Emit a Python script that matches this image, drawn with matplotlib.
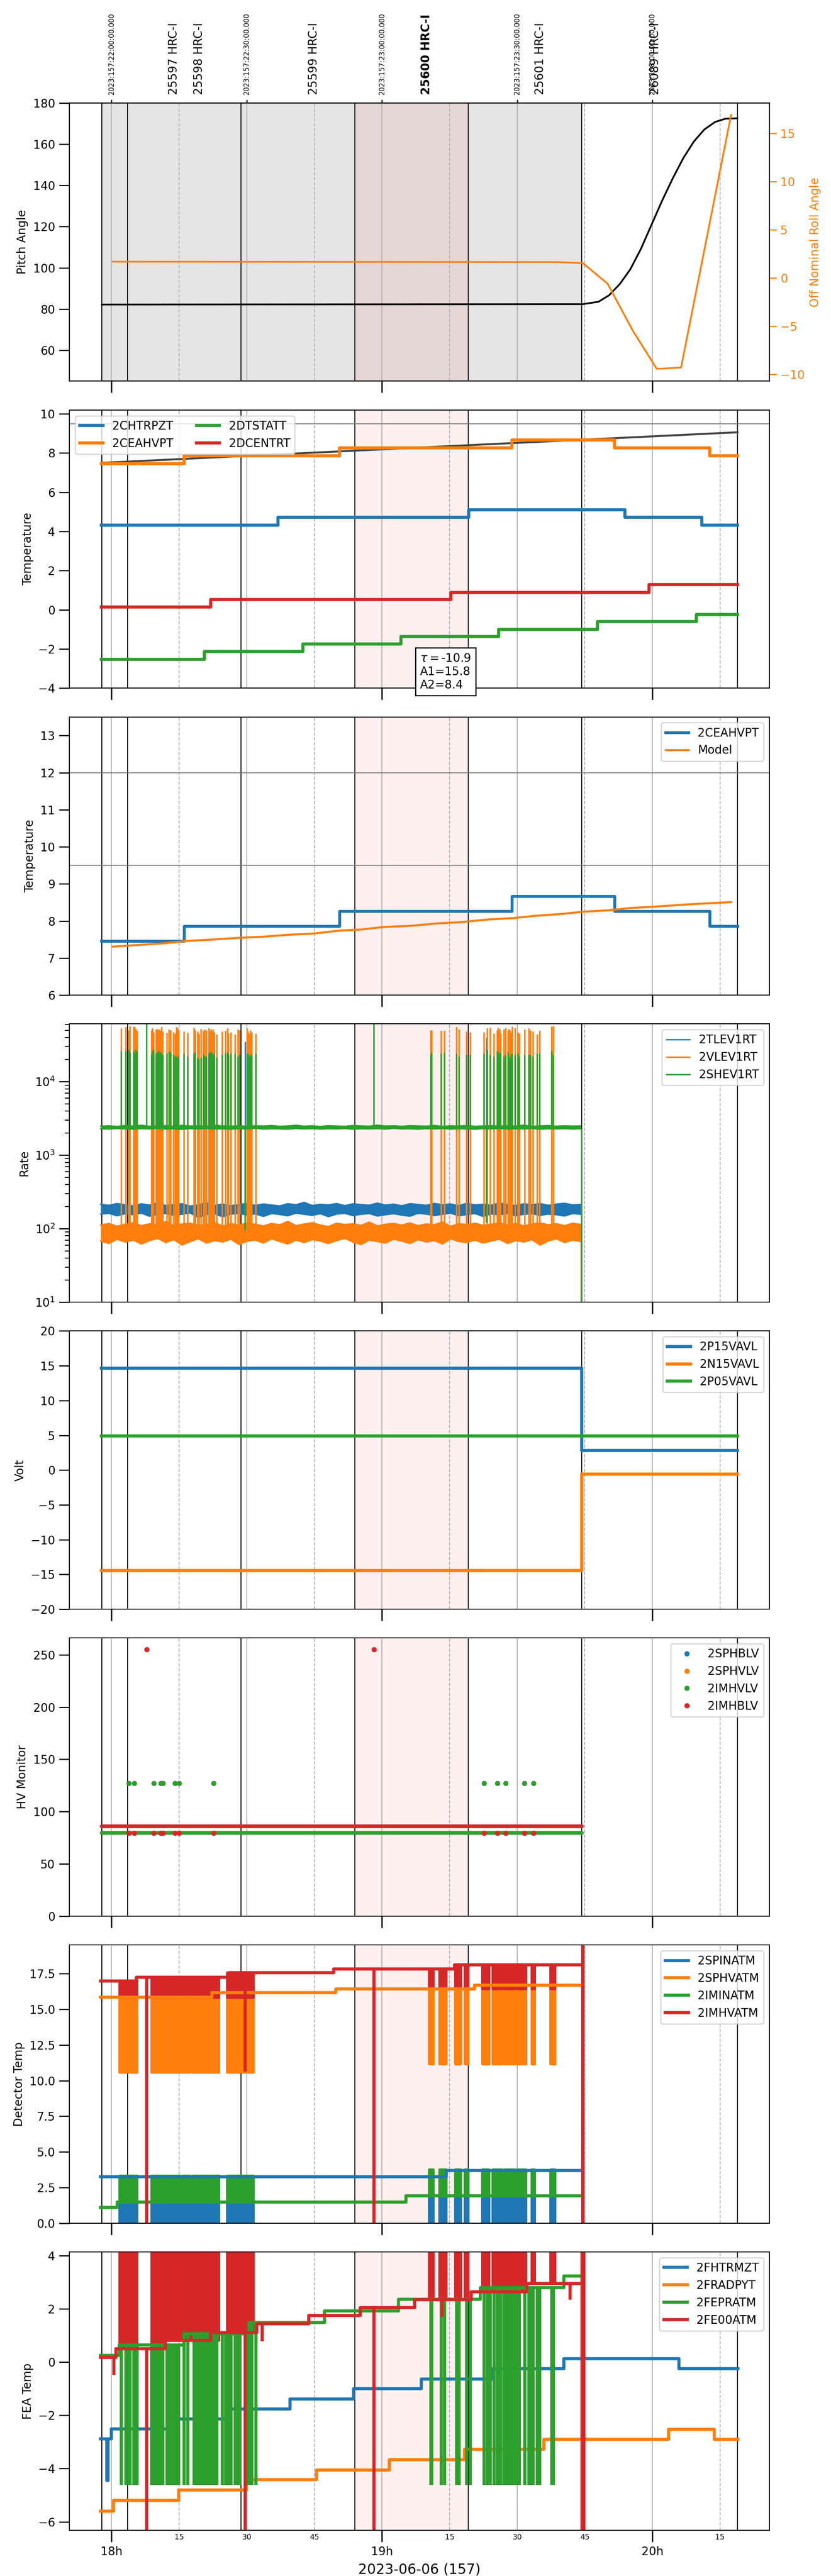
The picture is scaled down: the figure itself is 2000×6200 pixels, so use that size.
import numpy as np
import matplotlib
matplotlib.use("Agg")
import matplotlib.pyplot as plt
from matplotlib.ticker import FixedLocator, FixedFormatter, NullLocator
import matplotlib.transforms as mtransforms

plt.rcParams['font.family'] = ['DejaVu Sans']

C0, C1, C2, C3 = '#1f77b4', '#ff7f0e', '#2ca02c', '#d62728'

# ---------------- time axis (hours, local time on 2023-06-06) ----------------
x_limits = (17.8448, 20.4325)
obs_bounds = [17.964, 18.060, 18.479, 18.899, 19.319, 19.739, 20.315]
pink_span = (18.899, 19.319)
grey_span = (17.964, 19.739)
grid_solid = [18.0, 18.5, 19.0, 19.5, 20.0]
grid_dashed = [18.25, 18.75, 19.25, 19.75, 20.25]
major_ticks = [18.0, 19.0, 20.0]
major_labels = ['18h', '19h', '20h']
minor_ticks = [18.25, 18.5, 18.75, 19.25, 19.5, 19.75, 20.25]
minor_labels = ['15', '30', '45', '15', '30', '45', '15']
utc_ticks = [18.0, 18.5, 19.0, 19.5, 20.0]
utc_labels = ['2023:157:22:00:00.000', '2023:157:22:30:00.000', '2023:157:23:00:00.000',
              '2023:157:23:30:00.000', '2023:158:00:00:00.000']
obs_ids = ['25597 HRC-I', '25598 HRC-I', '25599 HRC-I', '25600 HRC-I', '25601 HRC-I', '26089 HRC-I']
obs_label_x = [18.2306, 18.3242, 18.7472, 19.1643, 19.5855, 20.0104]
obs_bold = [False, False, False, True, False, False]
xlabel_text = '2023-06-06 (157)'

# ---------------- panel 1 : pitch / roll ----------------
pitch_t = [17.964, 19.7427, 19.8009, 19.8400, 19.8792, 19.9184, 19.9576, 19.9967, 20.0359,
           20.0751, 20.1143, 20.1535, 20.1925, 20.2317, 20.2708, 20.3140]
pitch_v = [82.2, 82.38, 83.55, 86.70, 92.09, 99.28, 109.17, 120.85, 132.54,
           143.33, 153.21, 161.30, 167.15, 170.74, 172.36, 172.54]
roll_t = [18.005, 19.644, 19.743, 19.834, 19.928, 20.016, 20.106, 20.291]
roll_v = [1.69, 1.65, 1.54, -0.58, -5.48, -9.42, -9.29, 16.92]

# ---------------- panel 2 : temperatures ----------------
chtrpzt_t = [17.962, 18.616, 19.321, 19.899, 20.183, 20.315]
chtrpzt_v = [4.32, 4.72, 5.10, 4.72, 4.32, 4.32]
ceahvpt_t = [17.962, 18.269, 18.843, 19.480, 19.860, 20.212, 20.315]
ceahvpt_v = [7.46, 7.86, 8.27, 8.67, 8.27, 7.86, 7.86]
dtstatt_t = [17.962, 18.344, 18.708, 19.070, 19.431, 19.797, 20.163, 20.315]
dtstatt_v = [-2.52, -2.12, -1.74, -1.36, -1.00, -0.60, -0.24, -0.24]
dcentrt_t = [17.962, 18.367, 19.255, 19.987, 20.315]
dcentrt_v = [0.14, 0.52, 0.88, 1.28, 1.28]
trend_t = [17.964, 20.315]
trend_v = [7.50, 9.06]
p2_limits = [9.5]
fit_text = r'$\tau=$-10.9' + '\nA1=15.8\nA2=8.4'

# ---------------- panel 3 : model ----------------
model_t = [18.005, 18.195, 18.273, 18.372, 18.479, 18.567, 18.655, 18.743, 18.841, 18.920,
           19.008, 19.106, 19.194, 19.292, 19.390, 19.488, 19.566, 19.664, 19.742, 19.840,
           19.918, 20.016, 20.114, 20.212, 20.291]
model_v = [7.31, 7.40, 7.46, 7.50, 7.55, 7.58, 7.63, 7.66, 7.74, 7.77,
           7.84, 7.87, 7.93, 7.97, 8.04, 8.08, 8.14, 8.19, 8.25, 8.29,
           8.35, 8.39, 8.44, 8.48, 8.51]
p3_limits = [12.0, 9.5]

# ---------------- panel 4 : rates (envelopes of dense data + spikes) ----------------
rate_t = np.linspace(17.960, 19.735, 60)
tlev_hi = [215, 208, 220, 212, 205, 218, 210, 224, 207, 214,
           219, 203, 211, 226, 209, 216, 206, 213, 221, 208,
           217, 210, 204, 219, 212, 228, 207, 215, 211, 220,
           206, 218, 213, 209, 223, 210, 216, 205, 219, 214,
           208, 221, 212, 217, 206, 222, 211, 215, 209, 224,
           213, 207, 218, 212, 220, 208, 216, 222, 211, 214]
tlev_lo = [158, 162, 150, 160, 155, 163, 148, 158, 161, 152,
           157, 164, 142, 156, 160, 145, 158, 162, 153, 159,
           147, 161, 156, 150, 163, 157, 152, 160, 146, 158,
           162, 151, 157, 161, 149, 155, 160, 153, 148, 162,
           158, 151, 157, 163, 150, 156, 161, 147, 159, 154,
           162, 150, 157, 160, 152, 158, 155, 149, 161, 157]
vlev_hi = [112, 118, 108, 115, 121, 110, 117, 113, 125, 109,
           116, 119, 111, 114, 122, 108, 117, 112, 120, 115,
           109, 118, 113, 126, 110, 116, 121, 112, 107, 119,
           114, 117, 111, 123, 109, 115, 118, 112, 120, 110,
           116, 113, 124, 108, 117, 114, 119, 111, 115, 121,
           112, 118, 109, 116, 120, 113, 117, 110, 119, 114]
vlev_lo = [68, 63, 72, 66, 70, 62, 69, 74, 65, 71,
           60, 67, 73, 64, 69, 66, 72, 61, 68, 70,
           64, 73, 67, 62, 70, 65, 71, 68, 63, 69,
           74, 66, 61, 70, 67, 64, 72, 68, 63, 71,
           66, 69, 62, 73, 67, 65, 70, 64, 68, 72,
           63, 69, 66, 71, 60, 68, 73, 65, 70, 67]
shev_hi = [2480, 2510, 2460, 2530, 2490, 2550, 2470, 2500, 2520, 2460,
           2540, 2490, 2510, 2470, 2560, 2500, 2480, 2520, 2460, 2510,
           2490, 2530, 2470, 2500, 2550, 2480, 2510, 2460, 2520, 2490,
           2470, 2530, 2500, 2480, 2560, 2490, 2510, 2470, 2520, 2500,
           2480, 2540, 2460, 2510, 2490, 2530, 2470, 2500, 2520, 2480,
           2510, 2490, 2560, 2470, 2500, 2530, 2480, 2510, 2490, 2500]
shev_lo = [2290, 2270, 2310, 2280, 2260, 2300, 2280, 2320, 2270, 2290,
           2250, 2300, 2280, 2310, 2270, 2290, 2260, 2300, 2280, 2320,
           2270, 2290, 2280, 2260, 2310, 2280, 2300, 2270, 2290, 2280,
           2310, 2260, 2290, 2280, 2300, 2270, 2320, 2280, 2290, 2260,
           2300, 2280, 2310, 2270, 2290, 2280, 2260, 2300, 2280, 2320,
           2270, 2290, 2280, 2310, 2260, 2290, 2280, 2300, 2270, 2290]
spike_t = [18.0364, 18.0533, 18.0641, 18.0687, 18.0826, 18.0856, 18.0902, 18.0948, 18.1486, 18.1516,
           18.1563, 18.1655, 18.1701, 18.1747, 18.1778, 18.1824, 18.1855, 18.1901, 18.2055, 18.2131,
           18.2193, 18.2300, 18.2362, 18.2408, 18.2454, 18.2485, 18.2685, 18.2823, 18.3053, 18.3099,
           18.3191, 18.3237, 18.3314, 18.3406, 18.3452, 18.3514, 18.3606, 18.3637, 18.3683, 18.3714,
           18.3760, 18.3806, 18.3898, 18.4098, 18.4221, 18.4298, 18.4329, 18.4421, 18.4575, 18.4682,
           18.4744, 18.5020, 18.5051, 18.5097, 18.5143, 18.5189, 18.5343,
           19.1811, 19.1841, 19.2195, 19.2317, 19.2763, 19.2855, 19.3132, 19.3270, 19.3777, 19.3900,
           19.4008, 19.4146, 19.4269, 19.4299, 19.4330, 19.4361, 19.4392, 19.4515, 19.4576, 19.4668,
           19.4699, 19.4745, 19.4791, 19.4822, 19.4930, 19.5037, 19.5083, 19.5283, 19.5436, 19.5498,
           19.5590, 19.5744, 19.5836, 19.6282, 19.6343]
vlev_peak = [53, 55, 50, 57, 56, 55, 52, 49, 50, 53, 47, 51, 52, 50, 51, 49, 55, 48, 46, 51,
             50, 47, 45, 55, 53, 50, 48, 46, 54, 50, 48, 45, 52, 49, 51, 50, 53, 49, 52, 48,
             51, 47, 44, 48, 49, 53, 45, 47, 44, 51, 50, 53, 48, 45, 50, 47, 45,
             50, 50, 49, 49, 55, 51, 48, 47, 47, 53, 54, 45, 50, 54, 48, 52, 45, 51, 53, 49,
             52, 50, 47, 56, 54, 47, 45, 51, 53, 50, 48, 44, 49, 56, 57]
shev_peak = [26, 26, 27, 25, 26, 24, 27, 26, 23, 26, 27, 24, 25, 26, 25, 25, 24, 23, 24, 26,
             25, 23, 22, 22, 21, 22, 24, 22, 24, 25, 21, 20, 21, 23, 22, 22, 24, 25, 24, 25,
             23, 24, 21, 23, 24, 25, 23, 24, 24, 22, 23, 24, 24, 22, 23, 23, 24,
             23, 25, 24, 25, 24, 22, 23, 23, 24, 27, 23, 22, 26, 25, 22, 24, 25, 22, 23, 25,
             22, 21, 23, 24, 23, 24, 22, 23, 23, 23, 22, 24, 24, 26, 23]
tall_t = [18.1306, 18.9704]
tall_v = [90000, 90000]
event_t = [18.4935, 19.3865]
event_tlev = [35000, 40000]
event_shev = [95, 120]
rate_end_t = 19.7365
rate_end_v = 1.0

# ---------------- panel 5 : voltages ----------------
volt_t = [17.962, 19.738, 20.315]
p15_v = [14.64, 2.84, 2.84]
n15_v = [-14.44, -0.55, -0.55]
p05_v = [4.93, 4.93, 4.93]

# ---------------- panel 6 : HV monitors ----------------
hv_span = [17.962, 19.738]
imhblv_base = [86.2, 86.2]
imhvlv_base = [79.8, 79.8]
hv_out_t = [18.0642, 18.0837, 18.1562, 18.1816, 18.1894, 18.2346, 18.2501, 18.3775,
            19.3779, 19.4268, 19.4581, 19.5266, 19.5600]
imhvlv_out = [127.1, 127.1, 127.1, 127.1, 127.1, 127.1, 127.1, 127.1, 127.1, 127.1, 127.1, 127.1, 127.1]
imhblv_out = [79.5, 79.5, 79.5, 79.5, 79.5, 79.5, 79.5, 79.5, 79.5, 79.5, 79.5, 79.5, 79.5]
imhblv_high_t = [18.1306, 18.9704]
imhblv_high_v = [255.2, 255.2]

# ---------------- glitch blocks (shared by panels 7, 8) ----------------
blocks_A = [(18.0307, 18.0436), (18.0476, 18.0590), (18.0615, 18.0744), (18.0768, 18.0948),
            (18.1486, 18.1947), (18.1997, 18.2561), (18.2638, 18.2895), (18.2996, 18.3970),
            (18.4277, 18.5250)]
blocks_B = [(19.1744, 19.1901), (19.2136, 19.2371), (19.2708, 19.2918), (19.3075, 19.3193),
            (19.3719, 19.3954), (19.4094, 19.4447), (19.4525, 19.4917), (19.4995, 19.5152),
            (19.5207, 19.5333), (19.5544, 19.5645), (19.6234, 19.6406)]
bad_t = [18.1306, 18.9704]
final_t = 19.7425

# ---------------- panel 7 : detector temps ----------------
spinatm_t = [17.959, 19.237, 19.7346]
spinatm_v = [3.26, 3.71, 3.71]
sphvatm_t = [17.959, 18.3714, 18.8297, 19.3428, 19.7346]
sphvatm_v = [15.83, 16.15, 16.41, 16.69, 16.69]
iminatm_t = [17.959, 18.0206, 19.0883, 19.7346]
iminatm_v = [1.11, 1.50, 1.92, 1.92]
imhvatm_t = [17.959, 18.0922, 18.4328, 18.8218, 19.2683, 19.7346]
imhvatm_v = [16.97, 17.24, 17.57, 17.81, 18.11, 18.11]
glitch7 = {'spinatm': (-1.0, -1.0), 'sphvatm': (10.57, 11.15),
           'iminatm': (3.32, 3.75), 'imhvatm': (15.81, 16.43)}
imhvatm_dip_t = [18.4943]
imhvatm_dip_v = [10.64]

# ---------------- panel 8 : FEA temps ----------------
fhtrmzt_t = [17.960, 17.9825, 17.9865, 17.9991, 18.2096, 18.4299, 18.6601, 18.8951, 19.1457,
             19.4081, 19.6725, 20.0986, 20.3159]
fhtrmzt_v = [-2.89, -4.44, -2.89, -2.51, -2.14, -1.76, -1.38, -1.00, -0.63, -0.24, 0.13, -0.24, -0.24]
fradpyt_t = [17.960, 18.0069, 18.2488, 18.4984, 18.7579, 19.0273, 19.3054, 19.5991, 20.0594,
             20.2287, 20.3159]
fradpyt_v = [-5.60, -5.20, -4.81, -4.42, -4.05, -3.67, -3.27, -2.90, -2.52, -2.90, -2.90]
fepratm_t = [17.960, 18.0284, 18.2684, 18.5083, 18.7874, 19.0615, 19.3641, 19.6725, 19.7332]
fepratm_v = [0.25, 0.65, 1.07, 1.49, 1.92, 2.36, 2.80, 3.24, 3.24]
fe00atm_t = [17.960, 18.0157, 18.1997, 18.3663, 18.5376, 18.7286, 18.9196, 19.1203, 19.3298,
             19.5355, 19.7332]
fe00atm_v = [0.17, 0.50, 0.81, 1.11, 1.44, 1.75, 2.05, 2.34, 2.64, 2.96, 2.96]
fepratm_glitch = -4.62
fe00atm_glitch = 6.0
fe00atm_dip_t = [18.0088, 18.5573, 19.2221, 19.6951]
fe00atm_dip_v = [-0.48, 0.79, 1.71, 2.34]
fe00atm_bad_t = [18.1306, 18.4935, 18.9704]


# ============================ helpers ============================
def step_at(t, v, x):
    i = np.searchsorted(np.asarray(t), x, side='right') - 1
    i = min(max(i, 0), len(v) - 1)
    return v[i]


def glitches(ax, blocks, t, v, level, color):
    for s, e in blocks:
        b = step_at(t, v, 0.5 * (s + e))
        ax.fill_between([s, e], [b, b], [level, level], color=color, ec=color, lw=2.2)


def decorate(ax, grey=False):
    if grey:
        ax.axvspan(*grey_span, color='grey', alpha=0.2, lw=0, zorder=0)
    ax.axvspan(*pink_span, color='red', alpha=0.06, lw=0, zorder=0.1)
    for x in grid_solid:
        ax.axvline(x, color='#b0b0b0', lw=0.8, zorder=0.5)
    for x in grid_dashed:
        ax.axvline(x, color='#b0b0b0', lw=0.8, ls='--', zorder=0.5)
    for x in obs_bounds:
        ax.axvline(x, color='k', lw=0.8, zorder=0.6)
    ax.tick_params(axis='y', which='major', length=9, width=1, labelsize=10)
    ax.tick_params(axis='x', which='major', length=10, width=1.2, labelsize=10, pad=3.5)
    ax.tick_params(axis='x', which='minor', length=0, labelsize=6.5, pad=3)


# ============================ figure ============================
fig = plt.figure(figsize=(10, 31), dpi=200)
gs = fig.add_gridspec(8, 1, left=0.0837, right=0.9258, top=0.96005, bottom=0.01774, hspace=0.1032)
axes = [fig.add_subplot(gs[0])]
for i in range(1, 8):
    axes.append(fig.add_subplot(gs[i], sharex=axes[0]))

for i, ax in enumerate(axes):
    decorate(ax, grey=(i == 0))

lw_thick = 2.7

# ---- panel 1 ----
ax = axes[0]
ax.plot(pitch_t, pitch_v, color='k', lw=1.5, zorder=3)
ax.set_ylim(45, 180)
ax.set_ylabel('Pitch Angle', fontsize=10)
axr = ax.twinx()
axr.plot(roll_t, roll_v, color=C1, lw=1.5)
axr.set_ylim(-10.7, 18.15)
axr.set_ylabel('Off Nominal Roll Angle', color=C1, fontsize=10)
axr.tick_params(axis='y', colors=C1, length=6, width=1, labelsize=10)
sec = ax.secondary_xaxis('top')
sec.xaxis.set_major_locator(FixedLocator(utc_ticks))
sec.xaxis.set_major_formatter(FixedFormatter(utc_labels))
sec.xaxis.set_minor_locator(NullLocator())
sec.tick_params(axis='x', length=3, width=1, labelsize=6, labelrotation=90, pad=4)
trans = mtransforms.blended_transform_factory(ax.transData, ax.transAxes)
for xl, lab, b in zip(obs_label_x, obs_ids, obs_bold):
    ax.text(xl, 1.0298, lab, transform=trans, rotation=90, ha='center', va='bottom',
            fontsize=10, fontweight='bold' if b else 'normal')

# ---- panel 2 ----
ax = axes[1]
for y in p2_limits:
    ax.axhline(y, color='0.5', lw=0.8, zorder=1)
ax.plot(trend_t, trend_v, color='#444444', lw=1.7, zorder=2)
ax.step(chtrpzt_t, chtrpzt_v, where='post', color=C0, lw=lw_thick, label='2CHTRPZT')
ax.step(ceahvpt_t, ceahvpt_v, where='post', color=C1, lw=lw_thick, label='2CEAHVPT')
ax.step(dtstatt_t, dtstatt_v, where='post', color=C2, lw=lw_thick, label='2DTSTATT')
ax.step(dcentrt_t, dcentrt_v, where='post', color=C3, lw=lw_thick, label='2DCENTRT')
ax.set_ylim(-4, 10.2)
ax.set_ylabel('Temperature', fontsize=10)
ax.legend(loc='upper left', ncol=2, fontsize=10)
ax.text(19.1411, -2.18, fit_text, fontsize=10, ha='left', va='top', zorder=10, clip_on=False,
        bbox=dict(boxstyle='square,pad=0.4', fc='white', ec='black', lw=1))

# ---- panel 3 ----
ax = axes[2]
for y in p3_limits:
    ax.axhline(y, color='0.5', lw=0.8, zorder=1)
ax.step(ceahvpt_t, ceahvpt_v, where='post', color=C0, lw=2.5, label='2CEAHVPT')
ax.plot(model_t, model_v, color=C1, lw=1.8, label='Model')
ax.set_ylim(6, 13.5)
ax.set_ylabel('Temperature', fontsize=10)
ax.legend(loc='upper right', fontsize=10)

# ---- panel 4 ----
ax = axes[3]
ax.set_yscale('log')
ax.plot(rate_t, tlev_hi, color=C0, lw=1.2, label='2TLEV1RT')
ax.plot(rate_t, tlev_lo, color=C0, lw=1.2)
ax.fill_between(rate_t, tlev_lo, tlev_hi, color=C0, lw=0)
ax.vlines(event_t, np.interp(event_t, rate_t, tlev_hi), event_tlev, color=C0, lw=1.2)
ax.plot(rate_t, vlev_hi, color=C1, lw=1.2, label='2VLEV1RT')
ax.plot(rate_t, vlev_lo, color=C1, lw=1.2)
ax.fill_between(rate_t, vlev_lo, vlev_hi, color=C1, lw=0)
ax.vlines(spike_t, np.interp(spike_t, rate_t, vlev_lo), np.array(vlev_peak) * 1000.0, color=C1, lw=1.3)
ax.vlines([rate_end_t], rate_end_v, vlev_hi[-1], color=C1, lw=1.3)
ax.plot(rate_t, shev_hi, color=C2, lw=1.2, label='2SHEV1RT')
ax.plot(rate_t, shev_lo, color=C2, lw=1.2)
ax.fill_between(rate_t, shev_lo, shev_hi, color=C2, lw=0)
ax.vlines(spike_t, np.interp(spike_t, rate_t, shev_lo), np.array(shev_peak) * 1000.0, color=C2, lw=1.3)
ax.vlines(tall_t, np.interp(tall_t, rate_t, shev_lo), tall_v, color=C2, lw=1.3)
ax.vlines(event_t, event_shev, np.interp(event_t, rate_t, shev_lo), color=C2, lw=1.3)
ax.vlines([rate_end_t + 0.002], rate_end_v, shev_lo[-1], color=C2, lw=1.3)
ax.set_ylim(10, 6.1e4)
ax.set_ylabel('Rate', fontsize=10)
ax.tick_params(axis='y', which='minor', length=4, width=0.8)
ax.legend(loc='upper right', fontsize=10)

# ---- panel 5 ----
ax = axes[4]
ax.step(volt_t, p15_v, where='post', color=C0, lw=lw_thick, label='2P15VAVL')
ax.step(volt_t, n15_v, where='post', color=C1, lw=lw_thick, label='2N15VAVL')
ax.step(volt_t, p05_v, where='post', color=C2, lw=lw_thick, label='2P05VAVL')
ax.set_ylim(-20, 20)
ax.set_ylabel('Volt', fontsize=10)
ax.legend(loc='upper right', fontsize=10)

# ---- panel 6 ----
ax = axes[5]
ax.plot([], [], 'o', color=C0, ms=3.5, label='2SPHBLV')
ax.plot([], [], 'o', color=C1, ms=3.5, label='2SPHVLV')
ax.plot(hv_span, imhvlv_base, color=C2, lw=3.2, solid_capstyle='round')
ax.plot(hv_out_t, imhvlv_out, 'o', color=C2, ms=3.5, label='2IMHVLV')
ax.plot(hv_span, imhblv_base, color=C3, lw=3.2, solid_capstyle='round')
ax.plot(hv_out_t, imhblv_out, 'o', color=C3, ms=3.5, label='2IMHBLV')
ax.plot(imhblv_high_t, imhblv_high_v, 'o', color=C3, ms=3.5)
ax.set_ylim(0, 266)
ax.set_ylabel('HV Monitor', fontsize=10)
ax.legend(loc='upper right', fontsize=10)

# ---- panel 7 ----
ax = axes[6]
series7 = [('2SPINATM', spinatm_t, spinatm_v, 'spinatm', C0),
           ('2SPHVATM', sphvatm_t, sphvatm_v, 'sphvatm', C1),
           ('2IMINATM', iminatm_t, iminatm_v, 'iminatm', C2),
           ('2IMHVATM', imhvatm_t, imhvatm_v, 'imhvatm', C3)]
for lab, t, v, key, c in series7:
    ax.step(t, v, where='post', color=c, lw=lw_thick, label=lab)
    glitches(ax, blocks_A, t, v, glitch7[key][0], c)
    glitches(ax, blocks_B, t, v, glitch7[key][1], c)
ax.vlines(bad_t, [step_at(imhvatm_t, imhvatm_v, x) for x in bad_t], -1.0, color=C3, lw=lw_thick)
ax.vlines(imhvatm_dip_t, [step_at(imhvatm_t, imhvatm_v, x) for x in imhvatm_dip_t], imhvatm_dip_v,
          color=C3, lw=lw_thick)
ax.vlines([final_t], -1.0, 30.0, color=C3, lw=lw_thick)
ax.set_ylim(0, 19.5)
ax.set_ylabel('Detector Temp', fontsize=10)
ax.legend(loc='upper right', fontsize=10)

# ---- panel 8 ----
ax = axes[7]
ax.step(fhtrmzt_t, fhtrmzt_v, where='post', color=C0, lw=lw_thick, label='2FHTRMZT')
ax.step(fradpyt_t, fradpyt_v, where='post', color=C1, lw=lw_thick, label='2FRADPYT')
ax.step(fepratm_t, fepratm_v, where='post', color=C2, lw=lw_thick, label='2FEPRATM')
ax.vlines(spike_t, [step_at(fepratm_t, fepratm_v, x) for x in spike_t], fepratm_glitch,
          color=C2, lw=lw_thick)
ax.step(fe00atm_t, fe00atm_v, where='post', color=C3, lw=lw_thick, label='2FE00ATM')
glitches(ax, blocks_A, fe00atm_t, fe00atm_v, fe00atm_glitch, C3)
glitches(ax, blocks_B, fe00atm_t, fe00atm_v, fe00atm_glitch, C3)
ax.vlines(fe00atm_dip_t, [step_at(fe00atm_t, fe00atm_v, x) for x in fe00atm_dip_t], fe00atm_dip_v,
          color=C3, lw=lw_thick)
ax.vlines(fe00atm_bad_t, [step_at(fe00atm_t, fe00atm_v, x) for x in fe00atm_bad_t], -10.0,
          color=C3, lw=lw_thick)
ax.vlines([final_t], -10.0, 10.0, color=C3, lw=lw_thick * 1.6)
ax.set_ylim(-6.32, 4.14)
ax.set_ylabel('FEA Temp', fontsize=10)
ax.legend(loc='upper right', fontsize=10)

# ---- shared x axis ----
axes[0].set_xlim(*x_limits)
axes[0].xaxis.set_major_locator(FixedLocator(major_ticks))
axes[0].xaxis.set_major_formatter(FixedFormatter(major_labels))
axes[0].xaxis.set_minor_locator(FixedLocator(minor_ticks))
axes[0].xaxis.set_minor_formatter(FixedFormatter(minor_labels))
for ax in axes[:-1]:
    ax.tick_params(axis='x', which='both', labelbottom=False)
axes[-1].set_xlabel(xlabel_text, fontsize=12, labelpad=5)

fig.savefig('out.png', dpi=200)
